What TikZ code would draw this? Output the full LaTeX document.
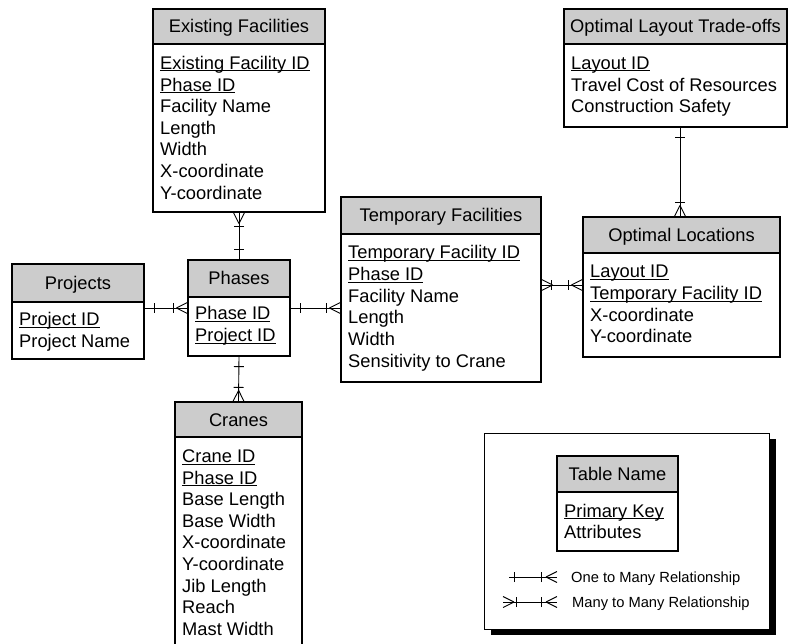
\documentclass[tikz,border=0pt]{standalone}
\usepackage{fontspec}
\setmainfont{Liberation Sans}
\usetikzlibrary{fit,decorations.markings}
\definecolor{hdrgray}{RGB}{204,204,204}
\newcommand\ulk[1]{\setbox0\hbox{#1}\rlap{\rule[-2pt]{\wd0}{1pt}}\box0}
% name, x1, x2, top, header bottom, bottom, title, first baseline, rows
\newcommand\ertab[9]{%
  \node[bodybox, fit={(#2,#5) (#3,#6)}] (#1) {};
  \node[hdrbox, fit={(#2,#4) (#3,#5)}] (#1-hdr) {};
  \node[hdrtext] (#1-title) at ({(#2+#3)/2},{(#4+#5)/2+6.5}) {#7};
  \foreach \r [count=\i] in {#9} {\node[rowtext] (#1-row\i) at ({#2+7},{#8+21.6*(\i-1)}) {\r};}
}
\tikzset{
  conn/.style={line width=0.9pt, black},
  erlink/.style n args={2}{conn, postaction={decorate, decoration={markings,
      mark=at position #1 with {\draw[conn] (0,-5pt) -- (0,5pt);},
      mark=at position #2 with {\draw[conn] (0,-5pt) -- (0,5pt);},
      mark=at position 0.9999 with {\draw[conn] (-11pt,0) -- (0,5.5pt) (-11pt,0) -- (0,-5.5pt);}}}},
  startcrow/.style={postaction={decorate, decoration={markings,
      mark=at position 0.0001 with {\draw[conn] (11pt,0) -- (0,5.5pt) (11pt,0) -- (0,-5.5pt);}}}},
  onemany/.style={erlink={10pt}{-14pt}},
  manymany/.style={erlink={10pt}{-14pt}, startcrow},
}
\begin{document}
\begin{tikzpicture}[x=1pt, y=-1pt,
  hdrbox/.style={draw, line width=1.2pt, fill=hdrgray, inner sep=0},
  bodybox/.style={draw, line width=1.2pt, fill=white, inner sep=0},
  hdrtext/.style={anchor=base, inner sep=0, font=\fontsize{18.3}{21.6}\selectfont},
  rowtext/.style={anchor=base west, inner sep=0, font=\fontsize{18.3}{21.6}\selectfont},
  legtext/.style={anchor=base west, inner sep=0, font=\fontsize{14.7}{17}\selectfont}]
\useasboundingbox (0,0) rectangle (790,644);
\clip (0,0) rectangle (790,644);

% legend frame with shadow
\node[fit={(491,439) (776,635)}, fill=black, inner sep=0] (legshadow) {};
\node[fit={(484,433) (769,629)}, draw, line width=1pt, fill=white, inner sep=0] (legend) {};

\ertab{ef}{153}{325}{9}{44}{212}{Existing Facilities}{69.5}{{\ulk{Existing Facility ID}},{\ulk{Phase ID}},Facility Name,Length,Width,X-coordinate,Y-coordinate}
\ertab{olt}{564}{787}{9}{44}{127}{Optimal Layout Trade-offs}{69.5}{{\ulk{Layout ID}},Travel Cost of Resources,Construction Safety}
\ertab{pr}{12}{144}{264}{302}{359}{Projects}{326}{{\ulk{Project ID}},Project Name}
\ertab{ph}{188}{290}{260}{297}{356}{Phases}{320}{{\ulk{Phase ID}},{\ulk{Project ID}}}
\ertab{tf}{341}{541}{197}{234}{382}{Temporary Facilities}{259}{{\ulk{Temporary Facility ID}},{\ulk{Phase ID}},Facility Name,Length,Width,Sensitivity to Crane}
\ertab{ol}{583}{780}{217}{253}{357}{Optimal Locations}{278}{{\ulk{Layout ID}},{\ulk{Temporary Facility ID}},X-coordinate,Y-coordinate}
\ertab{cr}{175}{302}{402}{437}{660}{Cranes}{462.5}{{\ulk{Crane ID}},{\ulk{Phase ID}},Base Length,Base Width,X-coordinate,Y-coordinate,Jib Length,Reach,Mast Width}
\ertab{tn}{557}{678}{456}{492}{551}{Table Name}{517}{{\ulk{Primary Key}},Attributes}

% relationships
\coordinate (yrow) at (0,308);
\coordinate (ytf) at (0,285);
\coordinate (xol) at (680,0);
\draw[onemany] (pr.east |- yrow) -- (ph.west |- yrow);
\draw[onemany] (ph.east |- yrow) -- (tf.west |- yrow);
\draw[onemany] (ph-hdr.north) -- (ef.south);
\draw[onemany] (ph.south) -- (cr-hdr.north);
\draw[manymany] (tf.east |- ytf) -- (ol.west |- ytf);
\draw[onemany] (olt.south -| xol) -- (ol-hdr.north -| xol);

% legend symbols
\coordinate (l1a) at (509,577);
\coordinate (l1b) at (557,577);
\coordinate (l2a) at (503,602);
\coordinate (l2b) at (557,602);
\draw[erlink={5pt}{-16pt}] (l1a) -- (l1b);
\draw[erlink={13pt}{-16pt}, startcrow] (l2a) -- (l2b);
\node[legtext] (l1t) at (571,582) {One to Many Relationship};
\node[legtext] (l2t) at (572,607) {Many to Many Relationship};
\end{tikzpicture}
\end{document}
